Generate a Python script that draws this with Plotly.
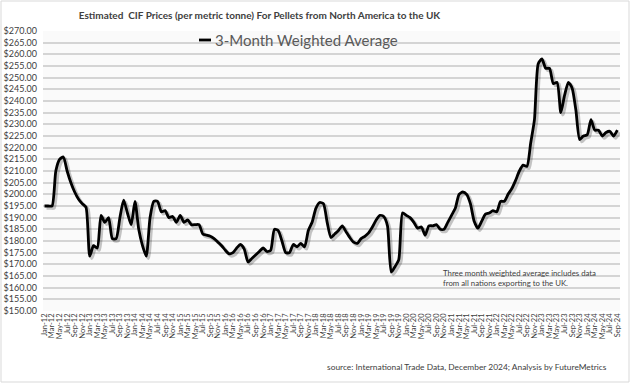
import plotly.graph_objects as go

months = ["Jan", "Feb", "Mar", "Apr", "May", "Jun", "Jul", "Aug", "Sep", "Oct", "Nov", "Dec"]
categories = [f"{m}-{y:02d}" for y in range(12, 25) for m in months][:153]

prices = [
    195, 195, 195, 210, 215, 216, 210, 205, 201, 198, 196, 194.5,
    173.5, 178, 177, 191, 188, 190, 181, 181, 190, 197.5, 192, 187,
    197, 185, 178, 173.5, 190, 197, 197, 192.5, 193, 190, 190.5, 188,
    191, 188, 189, 187, 187, 187, 183, 182.5, 182, 181, 179.5, 178,
    176, 174.5, 175, 177, 178.5, 176.5, 171, 172.5, 174, 175.5, 177, 175.5,
    176, 185, 184.5, 180, 175, 175, 178.5, 177.5, 179, 177.5, 184.5, 188,
    194, 196.5, 196, 188, 181.5, 183, 184.5, 186.5, 184, 181.5, 179.5, 179,
    181, 182, 183.5, 186, 189, 191, 190.5, 186.5, 166.7, 169, 172, 192,
    191, 190, 188, 185.5, 186, 182.5, 186.5, 186.5, 187, 185, 185, 188,
    191, 194, 200, 201, 200, 196, 188.5, 185.5, 188.5, 191.5, 192, 193,
    192.5, 197, 197, 200, 202.5, 206, 210, 212.5, 212, 222, 232, 256,
    258, 254, 254, 247.5, 248, 235, 242.5, 248, 245.5, 236, 223.5, 225,
    225.5, 232, 227.5, 227.5, 225, 226.5, 227, 225, 227.5,
]

y_ticks = list(range(150, 275, 5))
y_tick_labels = [f"${v:.2f}" for v in y_ticks]
x_tick_idx = list(range(0, 153, 2))
x_tick_labels = [categories[i] for i in x_tick_idx]

series_name = "3-Month Weighted Average"
title_text = "Estimated  CIF Prices (per metric tonne) For Pellets from North America to the UK"
note_text = "Three month weighted average includes data<br>from all nations exporting to the UK."
source_text = "source: International Trade Data, December 2024; Analysis by FutureMetrics"

FONT = "Lato"
L, R, T, B = 43, 10, 31, 72
PW, PH = 630 - L - R, 383 - T - B
X_RANGE = [-0.4, 152.7]
Y_RANGE = [150, 270]
# drop-shadow offset (pixels) applied through a shifted overlay axis
SHX, SHY = 2, 2
dx = SHX * (X_RANGE[1] - X_RANGE[0]) / PW
dy = SHY * (Y_RANGE[1] - Y_RANGE[0]) / PH


def px_x(x):
    return (x - L) / PW


def px_y(y):
    return (383 - B - y) / PH


xs = list(range(len(prices)))
fig = go.Figure()
fig.add_trace(go.Scatter(
    x=xs, y=prices, mode="lines", name="shadow", xaxis="x2", yaxis="y2",
    line=dict(color="rgba(0,0,0,0.22)", width=3.5, shape="spline", smoothing=0.6),
    showlegend=False, hoverinfo="skip",
))
fig.add_trace(go.Scatter(
    x=xs, y=prices, mode="lines", name=series_name,
    line=dict(color="#000000", width=2.8, shape="spline", smoothing=0.6),
    showlegend=False,
))

fig.update_layout(
    width=630, height=383,
    margin=dict(l=L, r=R, t=T, b=B),
    paper_bgcolor="white", plot_bgcolor="#fafafa",
    font=dict(family=FONT, color="#404040"),
    showlegend=False,
    title=dict(text=f"<b>{title_text}</b>", x=259.5 / 630, xanchor="center", y=1 - 15 / 383, yanchor="middle",
               font=dict(size=10.0, color="#404040", family=FONT)),
    xaxis=dict(range=X_RANGE, tickmode="array", tickvals=x_tick_idx, ticktext=x_tick_labels,
               tickangle=-90, tickfont=dict(size=7.5, color="#404040"), showgrid=False,
               zeroline=False, showline=False, ticks="", automargin=False),
    yaxis=dict(range=Y_RANGE, tickmode="array", tickvals=y_ticks, ticktext=y_tick_labels,
               tickfont=dict(size=9, color="#404040"), showgrid=True, gridcolor="#d4d4d4",
               gridwidth=2, zeroline=False, showline=False, ticks="", automargin=False,
               ticklabelstandoff=5),
    xaxis2=dict(range=[X_RANGE[0] - dx, X_RANGE[1] - dx], overlaying="x", visible=False),
    yaxis2=dict(range=[Y_RANGE[0] + dy, Y_RANGE[1] + dy], overlaying="y", visible=False),
    annotations=[
        dict(text=series_name, xref="paper", yref="paper", x=px_x(213), y=px_y(40),
             xanchor="left", yanchor="middle", showarrow=False,
             font=dict(size=15, color="#595959", family=FONT)),
        dict(text=note_text, xref="paper", yref="paper", x=px_x(441), y=px_y(266),
             xanchor="left", yanchor="top", align="left", showarrow=False,
             font=dict(size=7.8, color="#404040", family=FONT)),
        dict(text=source_text, xref="paper", yref="paper", x=px_x(467), y=px_y(367),
             xanchor="center", yanchor="middle", showarrow=False,
             font=dict(size=8.4, color="#404040", family=FONT)),
    ],
    shapes=[
        dict(type="line", xref="paper", yref="paper", x0=px_x(199), x1=px_x(211),
             y0=px_y(40), y1=px_y(40), line=dict(color="#000000", width=2.8)),
        dict(type="rect", xref="paper", yref="paper", x0=px_x(1), x1=px_x(629),
             y0=px_y(382), y1=px_y(1), line=dict(color="#d9d9d9", width=1)),
    ],
)

fig.write_html("out.html", config={"displayModeBar": False},
               post_script="document.body.style.margin='0';")
